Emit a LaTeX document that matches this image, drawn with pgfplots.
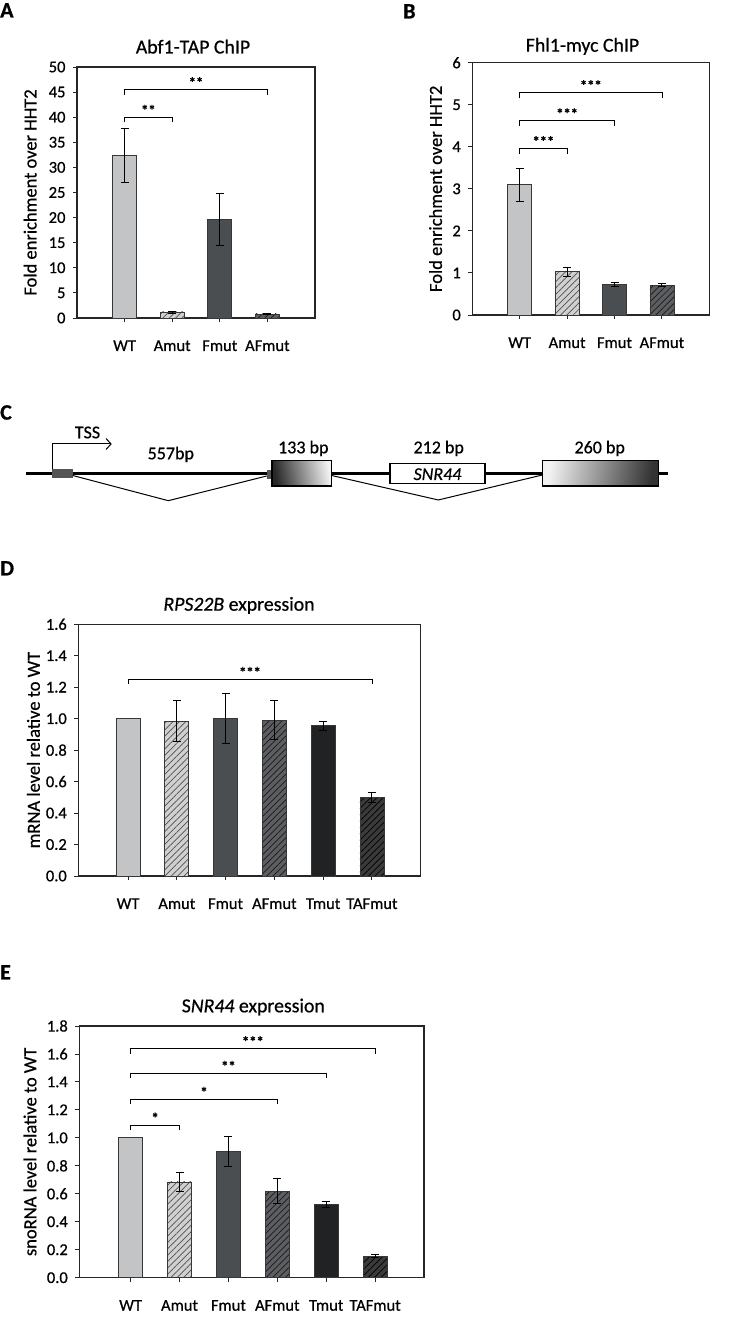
\documentclass[border=0pt]{standalone}
\usepackage{pgfplots}
\pgfplotsset{compat=1.18}
\usepackage{fontspec}
\setmainfont{Carlito}[FakeBold=0.6]
\usetikzlibrary{patterns.meta, arrows.meta}

\definecolor{wtc}{RGB}{195,196,198}
\definecolor{amc}{RGB}{208,208,208}
\definecolor{amh}{RGB}{80,80,80}
\definecolor{fmc}{RGB}{75,78,81}
\definecolor{afc}{RGB}{92,94,97}
\definecolor{tmc}{RGB}{33,34,35}
\definecolor{tafc}{RGB}{58,58,58}
\definecolor{edgec}{RGB}{55,55,55}
\definecolor{exonc}{RGB}{85,85,85}

\newcommand\ticksize{\fontsize{16.5}{18}\selectfont}
\newcommand\labsize{\fontsize{18.5}{20}\selectfont}
\newcommand\titsize{\fontsize{19.8}{22}\selectfont}
\newcommand\starsize{\fontsize{14.5}{15}\selectfont\bfseries}
\newcommand\panelsize{\fontsize{22}{22}\selectfont\bfseries}
\newcommand\gsize{\fontsize{18}{20}\selectfont}

\pgfplotsset{
  panel/.style={
    scale only axis, anchor=south west, ymin=0, clip=false,
    axis line style={black!85, line width=1.1pt},
    tick pos=left, tick align=outside, major tick length=4pt,
    every tick/.style={black!85, line width=0.9pt},
    tick label style={font=\ticksize},
    /pgf/number format/assume math mode=true,
    xticklabel style={anchor=base, yshift=-29pt},
    yticklabel style={xshift=-4pt},
    ylabel style={font=\labsize, at={(axis description cs:#1,0.5)}, anchor=center},
  },
  bbase/.style={ybar, bar width=24pt, bar shift=0pt, draw=edgec, line width=0.8pt},
  bwt/.style={bbase, fill=wtc},
  bam/.style={bbase, fill=amc, postaction={pattern={Lines[angle=45,distance=4.5pt,line width=0.7pt]}, pattern color=amh}},
  bfm/.style={bbase, fill=fmc},
  baf/.style={bbase, fill=afc, postaction={pattern={Lines[angle=45,distance=4.5pt,line width=0.7pt]}, pattern color=black!90}},
  btm/.style={bbase, fill=tmc},
  btaf/.style={bbase, fill=tafc, postaction={pattern={Lines[angle=45,distance=4.5pt,line width=0.7pt]}, pattern color=black}},
  errs/.style={draw=none, forget plot,
    error bars/.cd, y dir=both, y explicit, error mark=-,
    error bar style={draw=black, solid, line width=0.9pt},
    error mark options={draw=black, rotate=90, mark size=4pt, line width=0.9pt}},
}

\newcommand\bracket[5]{% x1, x2, ytop, ybottom, stars
  \draw[black, line width=0.8pt] (axis cs:#1,#4) |- (axis cs:#2,#3) -- (axis cs:#2,#4);
  \node[font=\starsize, anchor=base, inner sep=0pt, yshift=2pt] at (axis cs:{(#1+#2)/2},#3) {#5};
}

\begin{document}
\begin{tikzpicture}[x=1pt,y=1pt]
\fill[white, use as bounding box] (0,0) rectangle (730,1321);

% ---------- Panel A ----------
\begin{axis}[panel=-0.197, at={(77pt,1003pt)}, width=238pt, height=251pt,
  xmin=0, xmax=5, ymax=50, ytick={0,5,...,50},
  xtick={1,2,3,4}, xticklabels={WT,Amut,Fmut,AFmut},
  ylabel={Fold enrichment over HHT2}]
\addplot[bwt] coordinates {(1,32.4)};
\addplot[bam] coordinates {(2,1.2)};
\addplot[bfm] coordinates {(3,19.7)};
\addplot[baf] coordinates {(4,0.8)};
\addplot[errs] coordinates {(1,32.4) +- (0,5.4) (2,1.2) +- (0,0.2) (3,19.7) +- (0,5.2) (4,0.8) +- (0,0.15)};
\bracket{1}{2}{40.0}{39.0}{**}
\bracket{1}{4}{45.5}{44.5}{**}
\end{axis}

% ---------- Panel B ----------
\begin{axis}[panel=-0.155, at={(472.3pt,1006pt)}, width=237pt, height=252.3pt,
  xmin=0, xmax=5, ymax=6, ytick={0,1,...,6},
  xtick={1,2,3,4}, xticklabels={WT,Amut,Fmut,AFmut},
  ylabel={Fold enrichment over HHT2}]
\addplot[bwt] coordinates {(1,3.1)};
\addplot[bam] coordinates {(2,1.03)};
\addplot[bfm] coordinates {(3,0.73)};
\addplot[baf] coordinates {(4,0.71)};
\addplot[errs] coordinates {(1,3.1) +- (0,0.39) (2,1.03) +- (0,0.11) (3,0.73) +- (0,0.05) (4,0.71) +- (0,0.04)};
\bracket{1}{2}{3.96}{3.83}{***}
\bracket{1}{3}{4.62}{4.49}{***}
\bracket{1}{4}{5.29}{5.16}{***}
\end{axis}

% ---------- Panel D ----------
\begin{axis}[panel=-0.131, at={(78.3pt,445pt)}, width=342.4pt, height=251.7pt,
  xmin=-0.02, xmax=7, ymax=1.6, ytick={0,0.2,...,1.6},
  yticklabel style={/pgf/number format/.cd, fixed, fixed zerofill, precision=1},
  xtick={1,...,6}, xticklabels={WT,Amut,Fmut,AFmut,Tmut,TAFmut},
  ylabel={mRNA level relative to WT}]
\addplot[bwt] coordinates {(1,1.0)};
\addplot[bam] coordinates {(2,0.985)};
\addplot[bfm] coordinates {(3,1.0)};
\addplot[baf] coordinates {(4,0.99)};
\addplot[btm] coordinates {(5,0.955)};
\addplot[btaf] coordinates {(6,0.50)};
\addplot[errs] coordinates {(2,0.985) +- (0,0.13) (3,1.0) +- (0,0.16) (4,0.99) +- (0,0.125) (5,0.955) +- (0,0.03) (6,0.50) +- (0,0.03)};
\bracket{1}{6}{1.25}{1.218}{***}
\end{axis}

% ---------- Panel E ----------
\begin{axis}[panel=-0.143, at={(79.3pt,43.3pt)}, width=344.7pt, height=251.7pt,
  xmin=-0.05, xmax=7, ymax=1.8, ytick={0,0.2,...,1.8},
  yticklabel style={/pgf/number format/.cd, fixed, fixed zerofill, precision=1},
  xtick={1,...,6}, xticklabels={WT,Amut,Fmut,AFmut,Tmut,TAFmut},
  ylabel={snoRNA level relative to WT}]
\addplot[bwt] coordinates {(1,1.0)};
\addplot[bam] coordinates {(2,0.685)};
\addplot[bfm] coordinates {(3,0.90)};
\addplot[baf] coordinates {(4,0.62)};
\addplot[btm] coordinates {(5,0.525)};
\addplot[btaf] coordinates {(6,0.155)};
\addplot[errs] coordinates {(2,0.685) +- (0,0.07) (3,0.90) +- (0,0.107) (4,0.62) +- (0,0.09) (5,0.525) +- (0,0.02) (6,0.155) +- (0,0.01)};
\bracket{1}{2}{1.092}{1.056}{*}
\bracket{1}{4}{1.276}{1.240}{*}
\bracket{1}{5}{1.462}{1.426}{**}
\bracket{1}{6}{1.638}{1.602}{***}
\end{axis}

% ---------- labels, titles, panel C (image coordinates) ----------
\begin{scope}[shift={(0,1321)}, yscale=-1]
\node[font=\panelsize, anchor=north west, inner sep=0pt] at (0,3) {A};
\node[font=\panelsize, anchor=north west, inner sep=0pt] at (403,4) {B};
\node[font=\panelsize, anchor=north west, inner sep=0pt] at (0,405) {C};
\node[font=\panelsize, anchor=north west, inner sep=0pt] at (0,561) {D};
\node[font=\panelsize, anchor=north west, inner sep=0pt] at (0,965) {E};

\node[font=\titsize, anchor=base] at (193,53.5) {Abf1-TAP ChIP};
\node[font=\titsize, anchor=base] at (582.5,51.7) {Fhl1-myc ChIP};
\node[font=\titsize, anchor=base] at (239,610.7) {\textit{RPS22B} expression};
\node[font=\titsize, anchor=base] at (253.3,1012.3) {S\textit{NR44} expression};

% gene diagram
\draw[line width=3pt] (26,473.3) -- (668,473.3);
\fill[exonc] (51.7,468.7) rectangle (72.7,478.3);
\draw[line width=1pt, -{Straight Barb[length=5pt, width=11pt, line width=1pt]}] (52,468.7) -- (52,444) -- (111.7,444);
\draw[line width=1pt] (72.7,475.5) -- (168.3,500.7) -- (266.7,476);
\fill[exonc] (266.7,470) rectangle (272.7,478.7);
\draw[line width=1.5pt, left color=black!85, right color=black!5, shading angle=100] (272,460.7) rectangle (331.7,486);
\draw[line width=1pt] (331.7,475.5) -- (438.3,500) -- (542.3,475);
\draw[line width=1.2pt, fill=white] (390,463.3) rectangle (485,483.3);
\node[font=\gsize\itshape, anchor=base] at (437.5,480) {SNR44};
\draw[line width=1.5pt, left color=black!5, right color=black!80, shading angle=80] (542.3,460.7) rectangle (658.3,486);

\node[font=\gsize, anchor=base] at (87.5,438.3) {TSS};
\node[font=\gsize, anchor=base] at (170.8,459.3) {557bp};
\node[font=\gsize, anchor=base] at (303.3,453.3) {133 bp};
\node[font=\gsize, anchor=base] at (438.7,453.3) {212 bp};
\node[font=\gsize, anchor=base] at (599.7,453.3) {260 bp};
\end{scope}
\end{tikzpicture}
\end{document}
